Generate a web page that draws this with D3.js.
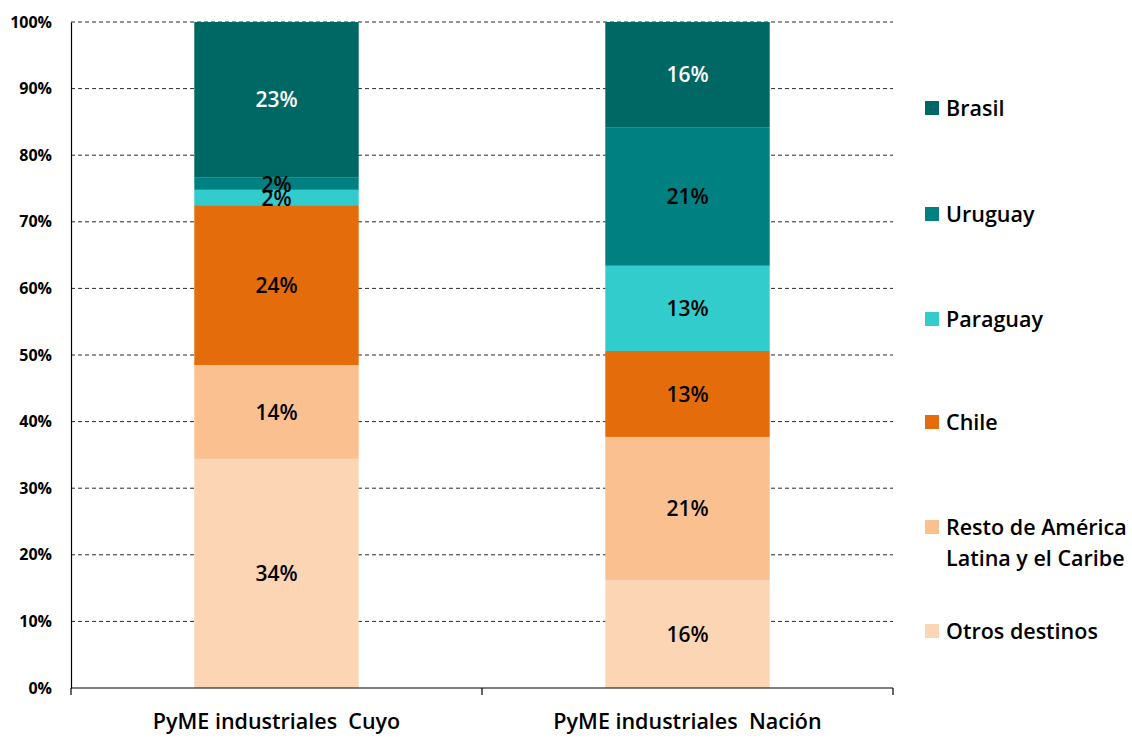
<!DOCTYPE html>
<html>
<head>
<meta charset="utf-8">
<script src="https://cdn.jsdelivr.net/npm/d3@7"></script>
<style>
  html, body { margin: 0; padding: 0; background: #fff; }
  svg { display: block; font-family: "Open Sans", "DejaVu Sans", sans-serif; }
</style>
</head>
<body>
<div id="chart"></div>
<script>
// Categories on the x axis
const categories = ["PyME industriales  Cuyo", "PyME industriales  Nación"];

// Series, bottom to top of each stack
const seriesNames = ["Otros destinos", "Resto de América Latina y el Caribe", "Chile", "Paraguay", "Uruguay", "Brasil"];
const seriesColors = ["#FCD5B5", "#FAC090", "#E46C0A", "#33CCCC", "#008080", "#006864"];
const labelColors = ["#000", "#000", "#000", "#000", "#000", "#fff"];

// Share (%) per series, one value per category
const otros = [34.4, 16.2];
const resto = [14.1, 21.5];
const chile = [24.0, 12.9];
const paraguay = [2.3, 12.8];
const uruguay = [1.9, 20.8];
const brasil = [23.3, 15.8];

// Rounded labels shown on the bars
const otrosLabels = ["34%", "16%"];
const restoLabels = ["14%", "21%"];
const chileLabels = ["24%", "13%"];
const paraguayLabels = ["2%", "13%"];
const uruguayLabels = ["2%", "21%"];
const brasilLabels = ["23%", "16%"];

const yTicks = [0, 10, 20, 30, 40, 50, 60, 70, 80, 90, 100];

// Legend lines (Resto wraps on two lines)
const legendLines = [
  ["Brasil"],
  ["Uruguay"],
  ["Paraguay"],
  ["Chile"],
  ["Resto de América", "Latina y el Caribe"],
  ["Otros destinos"]
];

const width = 1132;
const height = 740;
const margin = { top: 22, right: 239, bottom: 52, left: 71 };
const innerW = width - margin.left - margin.right;
const innerH = height - margin.top - margin.bottom;

const seriesValues = [otros, resto, chile, paraguay, uruguay, brasil];
const seriesLabels = [otrosLabels, restoLabels, chileLabels, paraguayLabels, uruguayLabels, brasilLabels];

const rows = categories.map((c, i) => {
  const row = { category: c };
  seriesNames.forEach((s, j) => { row[s] = seriesValues[j][i]; });
  return row;
});

const stacked = d3.stack().keys(seriesNames)(rows);

const svg = d3.select("#chart")
  .append("svg")
  .attr("width", width)
  .attr("height", height);

const g = svg.append("g")
  .attr("transform", `translate(${margin.left},${margin.top})`);

const x = d3.scaleBand()
  .domain(categories)
  .range([0, innerW])
  .padding(0);

const barWidth = x.bandwidth() * 0.4;

const y = d3.scaleLinear()
  .domain([0, 100])
  .range([innerH, 0]);

// Dashed gridlines
g.append("g")
  .selectAll("line")
  .data(yTicks.filter((d) => d > 0))
  .join("line")
  .attr("x1", 0)
  .attr("x2", innerW)
  .attr("y1", (d) => y(d))
  .attr("y2", (d) => y(d))
  .attr("stroke", "#2a2a2a")
  .attr("stroke-width", 1)
  .attr("stroke-dasharray", "4,3");

// Stacked bars
const layers = g.append("g")
  .selectAll("g")
  .data(stacked)
  .join("g")
  .attr("fill", (d, i) => seriesColors[i]);

layers.selectAll("rect")
  .data((d) => d)
  .join("rect")
  .attr("x", (d) => x(d.data.category) + (x.bandwidth() - barWidth) / 2)
  .attr("y", (d) => y(d[1]))
  .attr("width", barWidth)
  .attr("height", (d) => y(d[0]) - y(d[1]));

// Value labels
stacked.forEach((layer, j) => {
  g.append("g")
    .selectAll("text")
    .data(layer)
    .join("text")
    .attr("x", (d) => x(d.data.category) + x.bandwidth() / 2)
    .attr("y", (d, i) => {
      let mid = y((d[0] + d[1]) / 2);
      // thin Cuyo slices: labels sit close together as in the original
      if (i === 0 && seriesNames[j] === "Uruguay") mid += 1;
      if (i === 0 && seriesNames[j] === "Paraguay") mid += 1;
      return mid;
    })
    .attr("dy", "0.36em")
    .attr("text-anchor", "middle")
    .attr("fill", labelColors[j])
    .style("font-size", "21px")
    .style("font-weight", 600)
    .text((d, i) => seriesLabels[j][i]);
});

// Y axis
const yAxis = g.append("g")
  .call(d3.axisLeft(y)
    .tickValues(yTicks)
    .tickSize(0)
    .tickPadding(19)
    .tickFormat((d) => d + "%"));
yAxis.select(".domain").attr("stroke", "#000").attr("stroke-width", 1.2);
yAxis.selectAll(".tick text")
  .attr("fill", "#000")
  .style("font-size", "16px")
  .style("font-weight", 700)
  .style("font-family", "'Open Sans', sans-serif");

// X axis with ticks between categories
const xAxis = g.append("g")
  .attr("transform", `translate(0,${innerH})`);
xAxis.append("line")
  .attr("x1", 0)
  .attr("x2", innerW)
  .attr("stroke", "#000")
  .attr("stroke-width", 1.2);
xAxis.selectAll(".sep")
  .data([0, ...categories.map((c) => x(c) + x.bandwidth())])
  .join("line")
  .attr("class", "sep")
  .attr("x1", (d) => d)
  .attr("x2", (d) => d)
  .attr("y1", 0)
  .attr("y2", 7)
  .attr("stroke", "#000")
  .attr("stroke-width", 1.2);
xAxis.selectAll("text")
  .data(categories)
  .join("text")
  .attr("x", (d) => x(d) + x.bandwidth() / 2)
  .attr("y", 41)
  .attr("text-anchor", "middle")
  .attr("fill", "#000")
  .style("font-size", "21.5px")
  .style("font-weight", 600)
  .style("white-space", "pre")
  .text((d) => d);

// Legend
const legendY = [108, 214, 319, 422, 527, 631];
const legend = svg.append("g")
  .attr("transform", "translate(925,0)");

legendLines.forEach((lines, i) => {
  const idx = seriesNames.length - 1 - i;
  const item = legend.append("g").attr("transform", `translate(0,${legendY[i]})`);
  item.append("rect")
    .attr("x", 0)
    .attr("y", -7)
    .attr("width", 14)
    .attr("height", 14)
    .attr("fill", seriesColors[idx]);
  item.selectAll("text")
    .data(lines)
    .join("text")
    .attr("x", 21)
    .attr("y", (d, k) => k * 31)
    .attr("dy", "0.36em")
    .attr("fill", "#000")
    .style("font-size", "21.5px")
    .style("font-weight", 600)
    .text((d) => d);
});
</script>
</body>
</html>
